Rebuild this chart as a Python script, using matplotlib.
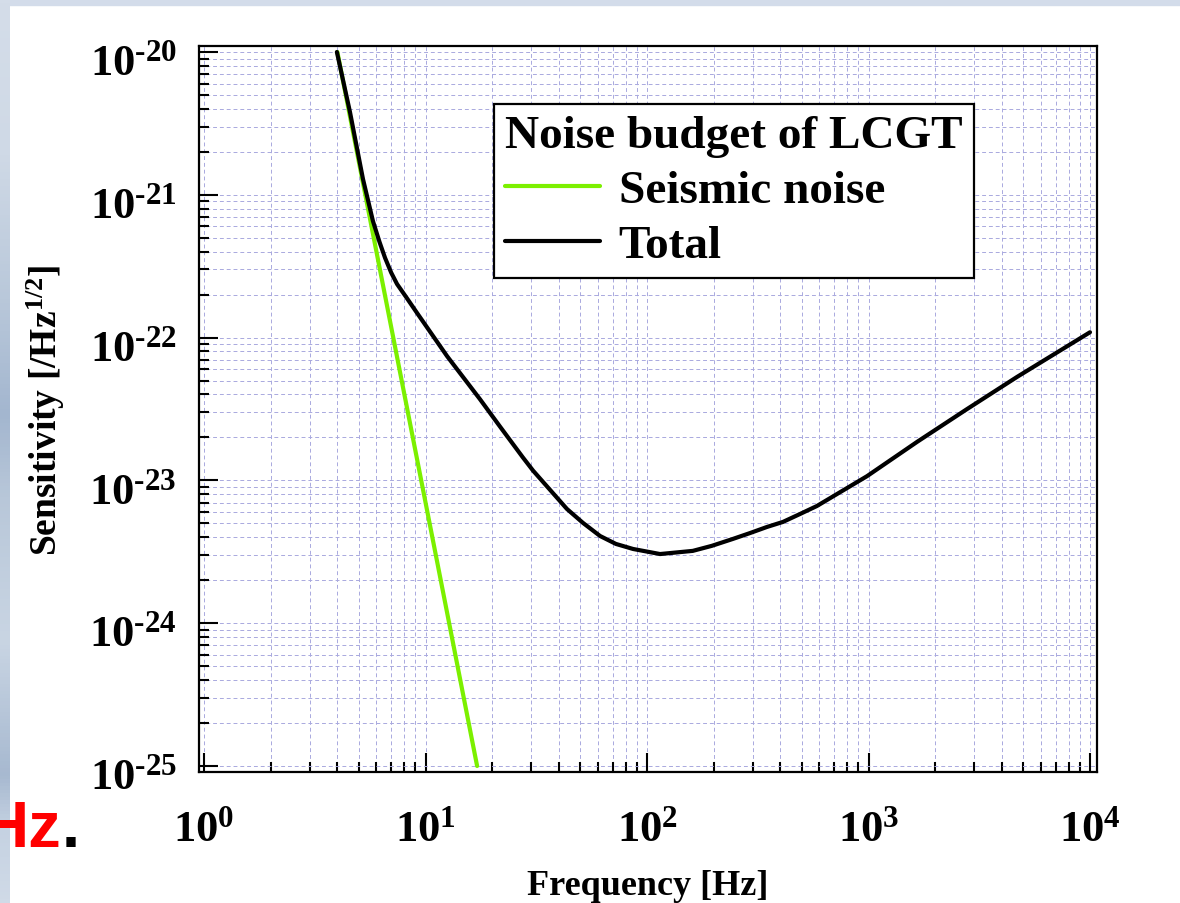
import numpy as np
import matplotlib
matplotlib.use('Agg')
import matplotlib.pyplot as plt
from matplotlib.patches import Rectangle
from matplotlib.colors import LinearSegmentedColormap
from matplotlib.ticker import LogLocator, NullFormatter, FuncFormatter
from matplotlib.transforms import ScaledTranslation

# fonts: bold Times-like serif everywhere
plt.rcParams['font.family'] = ['Liberation Serif', 'DejaVu Serif']
plt.rcParams['font.weight'] = 'bold'
plt.rcParams['mathtext.fontset'] = 'custom'
plt.rcParams['mathtext.rm'] = 'Liberation Serif:bold'
plt.rcParams['mathtext.bf'] = 'Liberation Serif:bold'
plt.rcParams['mathtext.it'] = 'Liberation Serif:bold:italic'
plt.rcParams['mathtext.default'] = 'rm'
plt.rcParams['axes.unicode_minus'] = False

# seismic noise (straight line in log-log)
seis_freq = [4.0, 17.1]
seis_asd = [1.0e-20, 1.0e-25]

# total noise
total_freq = [3.98, 4.56, 5.22, 5.79, 6.2, 6.57, 7.0, 7.44, 8.2, 9.15,
              12.5, 17.6, 21.7, 27.5, 30.6, 43.5, 51.4, 61.4, 72.4, 86.5,
              114.5, 161, 196, 244, 292, 348, 411, 491, 585, 984, 1656,
              2786, 4680, 10000]
total_asd = [1.0e-20, 3.8e-21, 1.29e-21, 6.55e-22, 4.67e-22, 3.61e-22,
             2.85e-22, 2.37e-22, 1.91e-22, 1.49e-22, 7.43e-23, 3.71e-23,
             2.38e-23, 1.45e-23, 1.17e-23, 6.31e-24, 5.04e-24, 4.08e-24,
             3.59e-24, 3.31e-24, 3.05e-24, 3.21e-24, 3.48e-24, 3.89e-24,
             4.28e-24, 4.72e-24, 5.12e-24, 5.82e-24, 6.62e-24, 1.07e-23,
             1.86e-23, 3.16e-23, 5.30e-23, 1.09e-22]

x_ticks = [1e0, 1e1, 1e2, 1e3, 1e4]
y_ticks = [1e-25, 1e-24, 1e-23, 1e-22, 1e-21, 1e-20]

W, H = 1180, 904
fig = plt.figure(figsize=(W / 100, H / 100), dpi=100)
fig.patch.set_facecolor('white')

# slide background bits (top band and left gradient strip)
fig.add_artist(Rectangle((0, 1 - 6 / H), 1, 6 / H, transform=fig.transFigure,
                         color='#d3dcea', zorder=0))
strip_colors = [(0.0, '#d4dde9'), (0.17, '#cfd9e6'), (0.33, '#b9c8da'),
                (0.46, '#a3b6cf'), (0.55, '#b8c7d9'), (0.71, '#c9d5e3'),
                (0.86, '#a7b9d0'), (0.92, '#c5d2e2'), (1.0, '#d0dae7')]
strip_cmap = LinearSegmentedColormap.from_list('strip', strip_colors)
strip = strip_cmap(np.linspace(0, 1, H))[:, None, :3] * np.ones((1, 10, 1))
fig.figimage(strip, xo=0, yo=0, origin='upper', zorder=0)

ax = fig.add_axes([199 / W, 1 - 773 / H, 898 / W, 726 / H])
ax.set_xscale('log')
ax.set_yscale('log')

ax.plot(seis_freq, seis_asd, color='#7cf000', lw=3.0, label='Seismic noise',
        solid_capstyle='round', zorder=3)
ax.plot(total_freq, total_asd, color='black', lw=3.0, label='Total',
        solid_capstyle='round', solid_joinstyle='round', zorder=4)

ax.set_xlim(10 ** -0.0226, 10 ** 4.0316)
ax.set_ylim(10 ** -25.042, 10 ** -19.958)


def pow_label(v, pos):
    e = int(round(np.log10(v)))
    s = str(abs(e))
    if e < 0:
        s = '\u2010' + s
    return r'$\mathdefault{10^{%s}}$' % s


ax.set_xticks(x_ticks)
ax.set_yticks(y_ticks)
ax.xaxis.set_minor_locator(LogLocator(base=10, subs=np.arange(2, 10), numticks=20))
ax.yaxis.set_minor_locator(LogLocator(base=10, subs=np.arange(2, 10), numticks=20))
ax.xaxis.set_major_formatter(FuncFormatter(pow_label))
ax.yaxis.set_major_formatter(FuncFormatter(pow_label))
ax.xaxis.set_minor_formatter(NullFormatter())
ax.yaxis.set_minor_formatter(NullFormatter())

ax.grid(True, which='both', color='#a9a9de', linestyle=(0, (4, 3)), linewidth=0.7)
ax.set_axisbelow(True)

ax.tick_params(which='both', direction='in', top=False, right=False, width=1.5,
               colors='black')
ax.tick_params(which='major', length=14)
ax.tick_params(which='minor', length=7)
ax.tick_params(axis='x', which='major', labelsize=32, pad=27)
ax.tick_params(axis='y', which='major', labelsize=32, pad=16)

for s in ax.spines.values():
    s.set_linewidth(1.6)
    s.set_color('black')

ax.set_xlabel('Frequency [Hz]', fontsize=26, fontweight='bold')
ax.xaxis.set_label_coords(0.5, -0.134)
ax.set_ylabel(r'Sensitivity [/Hz$^{\mathdefault{1/2}}$]', fontsize=27, fontweight='bold')
ax.yaxis.set_label_coords(-0.147, 0.5)

leg = ax.legend(loc='upper left', bbox_to_anchor=(494 / W, 1 - 105 / H),
                bbox_transform=fig.transFigure, borderaxespad=0,
                title='Noise budget of LCGT', fontsize=34, title_fontsize=34,
                frameon=True, fancybox=False, framealpha=1, edgecolor='black',
                borderpad=0.24, labelspacing=0.25, handlelength=2.0,
                handletextpad=0.4)
leg._legend_box.align = 'left'
leg.get_frame().set_linewidth(1.6)
leg.get_title().set_fontweight('bold')
for t in leg.get_texts():
    t.set_fontweight('bold')

# fragment of slide text at bottom left
fig.text(-18 / W, 1 - 847 / H, 'Hz', color='red', fontsize=47, fontweight='bold',
         family=['Liberation Sans', 'DejaVu Sans'], zorder=5)
fig.text(62 / W, 1 - 847 / H, '.', color='black', fontsize=47, fontweight='bold',
         family=['Liberation Sans', 'DejaVu Sans'], zorder=5)

# y tick labels sit a little below their ticks in the original
fig.canvas.draw()
shift = ScaledTranslation(0, -7 / 100, fig.dpi_scale_trans)
for t in ax.yaxis.get_ticklabels():
    t.set_transform(t.get_transform() + shift)

fig.savefig('out.png', dpi=100)
